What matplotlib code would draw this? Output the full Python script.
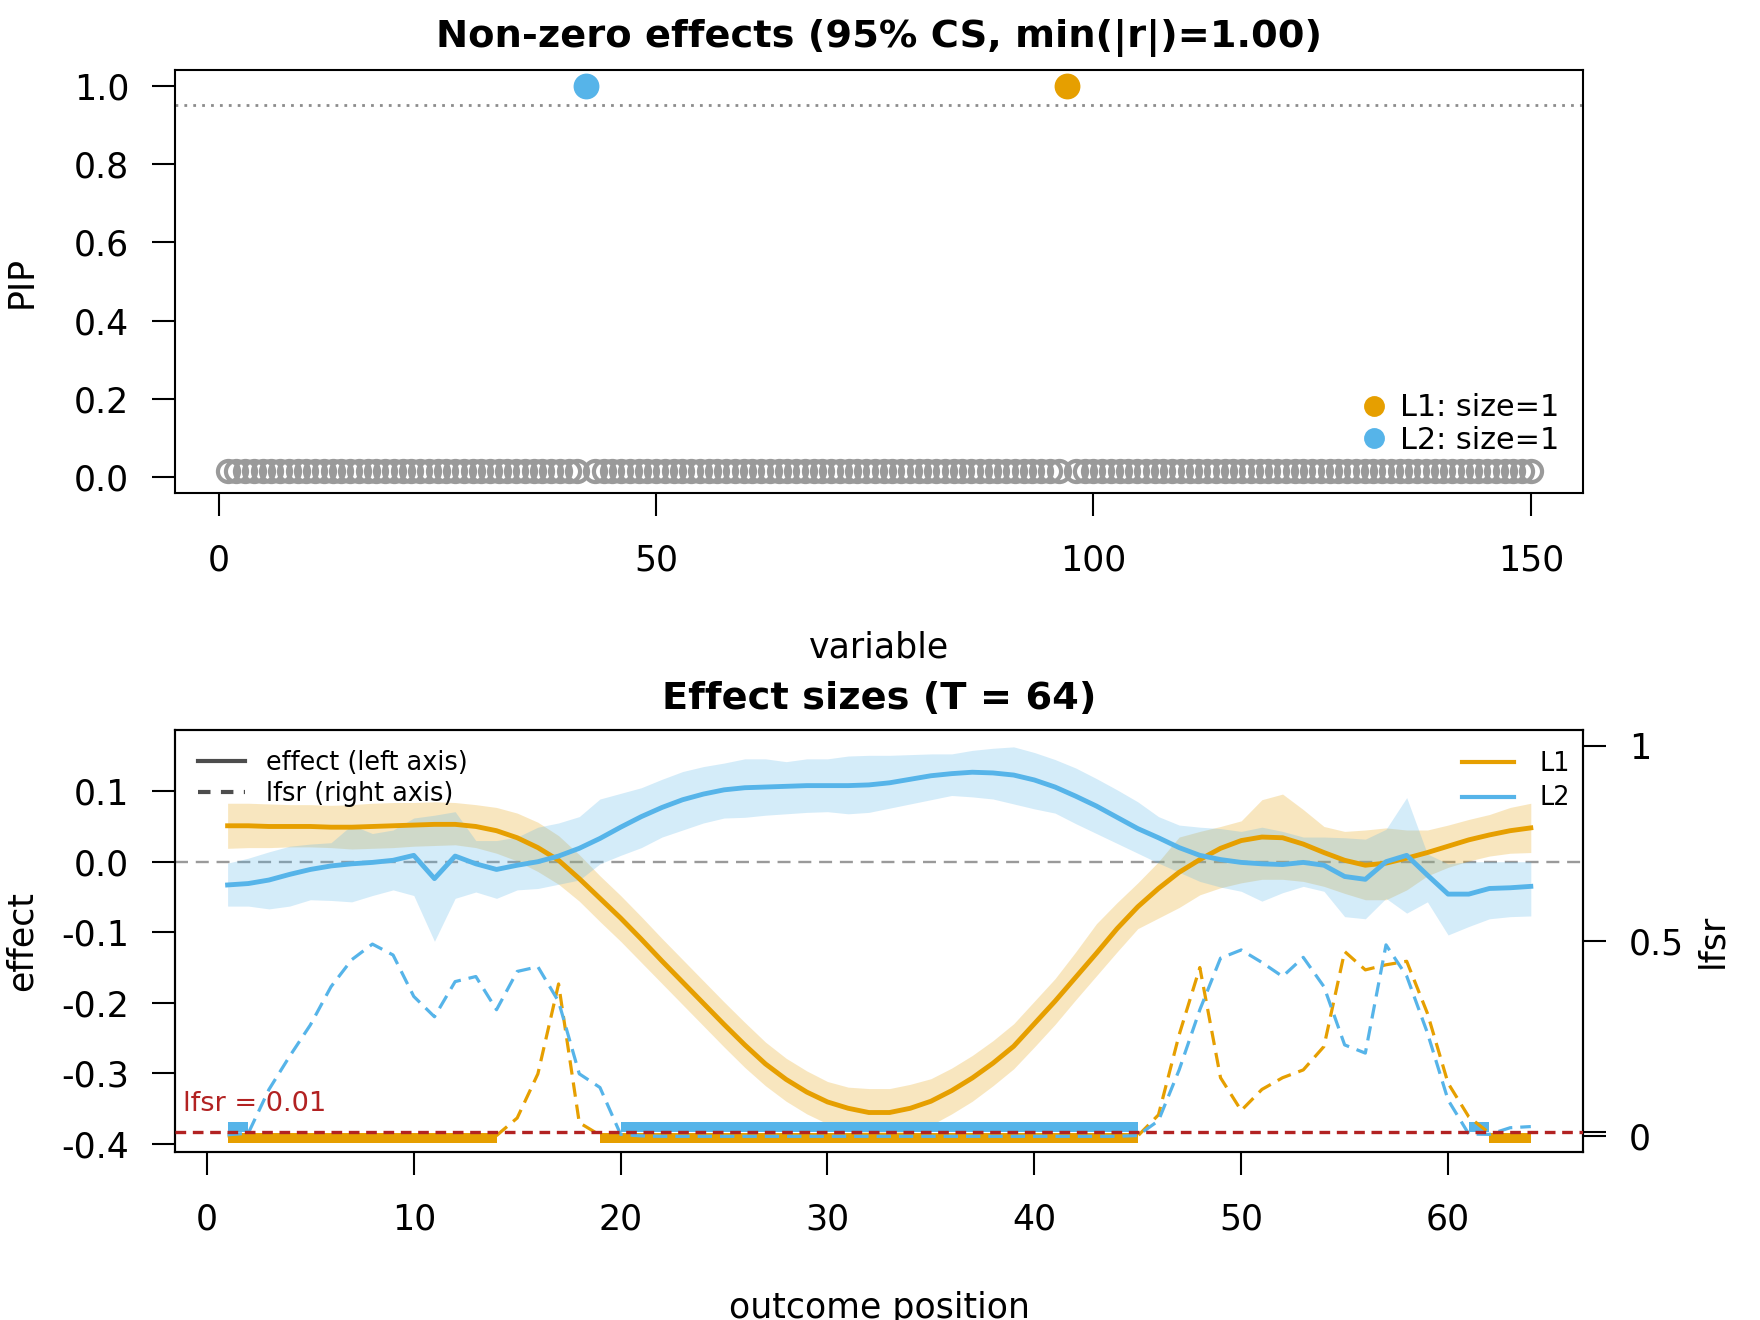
import numpy as np
import matplotlib
matplotlib.use('Agg')
import matplotlib.pyplot as plt
from matplotlib.lines import Line2D

plt.rcParams['font.family'] = ['DejaVu Sans']
plt.rcParams['axes.unicode_minus'] = False
plt.rcParams['axes.linewidth'] = 0.75

ORANGE = '#E69F00'
BLUE = '#56B4E9'

# ---- top panel: PIP per variable ----
n_variables = 150
background_pip = 0.017
cs_names = ['L1', 'L2']
cs_variable = [97, 42]
cs_pip = [1.0, 1.0]
cs_size = [1, 1]
cs_colors = [ORANGE, BLUE]

# ---- bottom panel: effect curves over outcome positions ----
positions = np.arange(1, 65)

l1_effect = [0.051, 0.051, 0.050, 0.050, 0.050, 0.049, 0.049, 0.050, 0.051, 0.052,
             0.053, 0.053, 0.050, 0.044, 0.034, 0.020, 0.002, -0.024, -0.052, -0.080,
             -0.110, -0.141, -0.171, -0.201, -0.231, -0.260, -0.287, -0.309, -0.327, -0.341,
             -0.350, -0.356, -0.356, -0.350, -0.340, -0.325, -0.307, -0.286, -0.262, -0.230,
             -0.198, -0.164, -0.130, -0.095, -0.064, -0.038, -0.015, 0.003, 0.019, 0.030,
             0.035, 0.034, 0.025, 0.013, 0.002, -0.005, -0.002, 0.005, 0.013, 0.022,
             0.031, 0.038, 0.044, 0.048]
l1_upper = [0.083, 0.083, 0.082, 0.081, 0.081, 0.080, 0.081, 0.083, 0.084, 0.084,
            0.085, 0.084, 0.081, 0.077, 0.069, 0.056, 0.037, 0.010, -0.020, -0.048,
            -0.078, -0.109, -0.139, -0.169, -0.199, -0.228, -0.256, -0.279, -0.297, -0.312,
            -0.320, -0.322, -0.322, -0.316, -0.308, -0.293, -0.275, -0.254, -0.230, -0.198,
            -0.166, -0.128, -0.088, -0.058, -0.030, 0.000, 0.035, 0.043, 0.050, 0.058,
            0.088, 0.096, 0.074, 0.050, 0.043, 0.045, 0.048, 0.045, 0.045, 0.052,
            0.060, 0.067, 0.077, 0.083]
l1_lower = [0.019, 0.020, 0.020, 0.021, 0.021, 0.020, 0.018, 0.019, 0.020, 0.022,
            0.023, 0.024, 0.020, 0.012, 0.001, -0.014, -0.032, -0.056, -0.085, -0.113,
            -0.143, -0.173, -0.203, -0.233, -0.263, -0.292, -0.318, -0.340, -0.358, -0.372,
            -0.382, -0.388, -0.390, -0.385, -0.374, -0.358, -0.340, -0.318, -0.294, -0.263,
            -0.231, -0.196, -0.162, -0.128, -0.095, -0.080, -0.065, -0.047, -0.037, -0.030,
            -0.025, -0.025, -0.028, -0.035, -0.045, -0.054, -0.054, -0.040, -0.020, -0.008,
            0.001, 0.008, 0.012, 0.013]

l2_effect = [-0.033, -0.031, -0.026, -0.018, -0.011, -0.006, -0.003, -0.001, 0.002, 0.009,
             -0.024, 0.008, -0.003, -0.011, -0.005, 0.000, 0.008, 0.019, 0.033, 0.049,
             0.064, 0.077, 0.088, 0.096, 0.102, 0.105, 0.106, 0.107, 0.108, 0.108,
             0.108, 0.109, 0.112, 0.117, 0.122, 0.125, 0.127, 0.126, 0.123, 0.116,
             0.106, 0.093, 0.079, 0.063, 0.047, 0.034, 0.020, 0.009, 0.003, -0.001,
             -0.003, -0.004, -0.001, -0.005, -0.021, -0.025, 0.000, 0.009, -0.019, -0.046,
             -0.046, -0.038, -0.037, -0.035]
l2_upper = [-0.002, 0.005, 0.014, 0.022, 0.025, 0.027, 0.052, 0.040, 0.045, 0.062,
            0.066, 0.071, 0.030, 0.030, 0.035, 0.049, 0.055, 0.064, 0.089, 0.097,
            0.105, 0.117, 0.128, 0.135, 0.140, 0.146, 0.146, 0.142, 0.146, 0.146,
            0.150, 0.151, 0.151, 0.152, 0.153, 0.153, 0.158, 0.161, 0.163, 0.155,
            0.145, 0.133, 0.118, 0.102, 0.085, 0.064, 0.052, 0.049, 0.047, 0.043,
            0.049, 0.043, 0.035, 0.035, 0.034, 0.032, 0.046, 0.091, 0.011, -0.003,
            0.000, 0.000, 0.000, 0.000]
l2_lower = [-0.063, -0.063, -0.067, -0.063, -0.054, -0.055, -0.057, -0.048, -0.040, -0.048,
            -0.113, -0.052, -0.043, -0.052, -0.040, -0.038, -0.032, -0.026, -0.003, 0.009,
            0.020, 0.035, 0.045, 0.055, 0.062, 0.063, 0.066, 0.068, 0.070, 0.071,
            0.068, 0.070, 0.076, 0.082, 0.088, 0.094, 0.092, 0.089, 0.082, 0.075,
            0.069, 0.054, 0.040, 0.026, 0.012, -0.002, -0.015, -0.028, -0.036, -0.042,
            -0.056, -0.044, -0.035, -0.042, -0.078, -0.081, -0.052, -0.073, -0.057, -0.104,
            -0.092, -0.081, -0.078, -0.077]

l1_lfsr = [0.001, 0.001, 0.001, 0.001, 0.001, 0.001, 0.001, 0.001, 0.001, 0.001,
           0.001, 0.001, 0.001, 0.002, 0.047, 0.160, 0.390, 0.035, 0.003, 0.001,
           0.000, 0.000, 0.000, 0.000, 0.000, 0.000, 0.000, 0.000, 0.000, 0.000,
           0.000, 0.000, 0.000, 0.000, 0.000, 0.000, 0.000, 0.000, 0.000, 0.000,
           0.000, 0.000, 0.000, 0.000, 0.001, 0.055, 0.260, 0.432, 0.150, 0.066,
           0.120, 0.150, 0.170, 0.230, 0.473, 0.426, 0.439, 0.448, 0.315, 0.136,
           0.050, 0.008, 0.002, 0.000]
l2_lfsr = [0.004, 0.008, 0.120, 0.205, 0.285, 0.383, 0.452, 0.492, 0.464, 0.358,
           0.306, 0.396, 0.409, 0.324, 0.422, 0.434, 0.345, 0.160, 0.125, 0.005,
           0.001, 0.000, 0.000, 0.000, 0.000, 0.000, 0.000, 0.000, 0.000, 0.000,
           0.000, 0.000, 0.000, 0.000, 0.000, 0.000, 0.000, 0.000, 0.000, 0.000,
           0.000, 0.000, 0.000, 0.000, 0.002, 0.040, 0.170, 0.324, 0.456, 0.477,
           0.445, 0.409, 0.458, 0.383, 0.234, 0.213, 0.490, 0.410, 0.265, 0.093,
           0.006, 0.005, 0.022, 0.025]

lfsr_threshold = 0.01
bar_level = {'L1': -0.003, 'L2': 0.024}


def significant_runs(values, thr):
    # (start, end) index pairs where values stay below thr
    runs, start = [], None
    for i, v in enumerate(values):
        if v < thr and start is None:
            start = i
        elif v >= thr and start is not None:
            runs.append((start, i - 1))
            start = None
    if start is not None:
        runs.append((start, len(values) - 1))
    return runs


fig = plt.figure(figsize=(8.8, 6.6), dpi=200)
tick_kw = dict(direction='out', length=8.3, width=0.75, labelsize=12.5)

# ================= top panel =================
ax1 = fig.add_axes([0.0997, 0.6265, 0.7997, 0.3205])
variables = np.arange(1, n_variables + 1)
pip = np.full(n_variables, background_pip)
for v, p in zip(cs_variable, cs_pip):
    pip[v - 1] = p
in_cs = np.isin(variables, cs_variable)

ax1.axhline(0.95, color='#8c8c8c', lw=1.0, ls=(0, (1, 2.2)), zorder=1)
ax1.plot(variables[~in_cs], pip[~in_cs], 'o', mfc='none', mec='#9a9a9a',
         ms=7.6, mew=1.5, zorder=2)
handles = []
for name, v, size, col in zip(cs_names, cs_variable, cs_size, cs_colors):
    ax1.plot(v, pip[v - 1], 'o', color=col, ms=8.3, zorder=3)
    handles.append(Line2D([], [], ls='none', marker='o', color=col, ms=6.5,
                          label=f'{name}: size={size}'))
ax1.legend(handles=handles, loc='center left', bbox_to_anchor=(0.8422, 0.163),
           frameon=False, fontsize=10.9, handlelength=0.85, handletextpad=0.45,
           labelspacing=0.12, borderpad=0, borderaxespad=0)

ax1.set_xlim(-4.96, 155.96)
ax1.set_ylim(-0.04, 1.04)
ax1.set_xticks([0, 50, 100, 150])
ax1.set_yticks([0, 0.2, 0.4, 0.6, 0.8, 1.0])
ax1.set_yticklabels(['0.0', '0.2', '0.4', '0.6', '0.8', '1.0'])
ax1.tick_params(axis='x', pad=10, **tick_kw)
ax1.tick_params(axis='y', pad=8.3, **tick_kw)
ax1.set_xlabel('variable', fontsize=12.5, va='center')
ax1.xaxis.set_label_coords(0.5, -0.366)
ax1.set_ylabel('PIP', fontsize=12.5, va='center')
ax1.yaxis.set_label_coords(-0.1095, 0.5)
ax1.text(0.5, 1.075, 'Non-zero effects (95% CS, min(|r|)=1.00)', transform=ax1.transAxes,
         ha='center', va='center', fontsize=13.8, fontweight='bold')

# ================= bottom panel =================
ax2 = fig.add_axes([0.0997, 0.1273, 0.7997, 0.3197])
ax2.axhline(0, color='#9a9a9a', lw=0.85, ls=(0, (5.5, 3.3)), zorder=1)
ax2.fill_between(positions, l1_lower, l1_upper, color=ORANGE, alpha=0.25, lw=0, zorder=2)
ax2.fill_between(positions, l2_lower, l2_upper, color=BLUE, alpha=0.25, lw=0, zorder=2)
ax2.plot(positions, l1_effect, color=ORANGE, lw=1.75, zorder=3)
ax2.plot(positions, l2_effect, color=BLUE, lw=1.75, zorder=3)
ax2.set_xlim(-1.52, 66.52)
ax2.set_ylim(-0.412, 0.187)
ax2.set_xticks([0, 10, 20, 30, 40, 50, 60])
ax2.set_yticks([0.1, 0.0, -0.1, -0.2, -0.3, -0.4])
ax2.set_yticklabels(['0.1', '0.0', '-0.1', '-0.2', '-0.3', '-0.4'])
ax2.tick_params(axis='x', pad=10, **tick_kw)
ax2.tick_params(axis='y', pad=8.3, **tick_kw)
ax2.set_xlabel('outcome position', fontsize=12.5, va='center')
ax2.xaxis.set_label_coords(0.5, -0.369)
ax2.set_ylabel('effect', fontsize=12.5, va='center')
ax2.yaxis.set_label_coords(-0.1095, 0.5)
ax2.text(0.5, 1.074, 'Effect sizes (T = 64)', transform=ax2.transAxes,
         ha='center', va='center', fontsize=13.8, fontweight='bold')

ax3 = ax2.twinx()
ax3.set_ylim(-0.04, 1.04)
for name, lfsr, col in [('L1', l1_lfsr, ORANGE), ('L2', l2_lfsr, BLUE)]:
    for s, e in significant_runs(lfsr, lfsr_threshold):
        ax3.plot([positions[s], positions[e]], [bar_level[name]] * 2, color=col,
                 lw=3.6, solid_capstyle='butt', zorder=2)
ax3.plot(positions, l1_lfsr, color=ORANGE, lw=1.15, ls=(0, (4.5, 2.5)), zorder=3)
ax3.plot(positions, l2_lfsr, color=BLUE, lw=1.15, ls=(0, (4.5, 2.5)), zorder=3)
ax3.axhline(lfsr_threshold, color='#B22222', lw=1.2, ls=(0, (3.2, 2.0)), zorder=4)
ax3.text(0.005, 0.066, f'lfsr = {lfsr_threshold}', transform=ax3.get_yaxis_transform(),
         color='#B22222', fontsize=9.8, ha='left', va='baseline')
ax3.set_yticks([0, 0.01, 0.5, 1])
ax3.set_yticklabels(['0', '', '0.5', '1'])
ax3.tick_params(axis='y', pad=8.3, **tick_kw)
ax3.set_ylabel('lfsr', fontsize=12.5, rotation=90, va='center')
ax3.yaxis.set_label_coords(1.0916, 0.5)

style_handles = [Line2D([], [], color='#4d4d4d', lw=1.5, label='effect (left axis)'),
                 Line2D([], [], color='#4d4d4d', lw=1.5, ls=(0, (3, 2.5)),
                        label='lfsr (right axis)')]
leg1 = ax3.legend(handles=style_handles, loc='center left', bbox_to_anchor=(0.016, 0.886),
                  frameon=False, fontsize=9.2, handlelength=1.84, handletextpad=0.83,
                  labelspacing=0.2, borderpad=0, borderaxespad=0)
ax3.add_artist(leg1)
effect_handles = [Line2D([], [], color=ORANGE, lw=1.5, label='L1'),
                  Line2D([], [], color=BLUE, lw=1.5, label='L2')]
ax3.legend(handles=effect_handles, loc='center left', bbox_to_anchor=(0.914, 0.879),
           frameon=False, fontsize=9.2, handlelength=2.04, handletextpad=0.98,
           labelspacing=0.35, borderpad=0, borderaxespad=0)

fig.savefig('out.png', dpi=200)
